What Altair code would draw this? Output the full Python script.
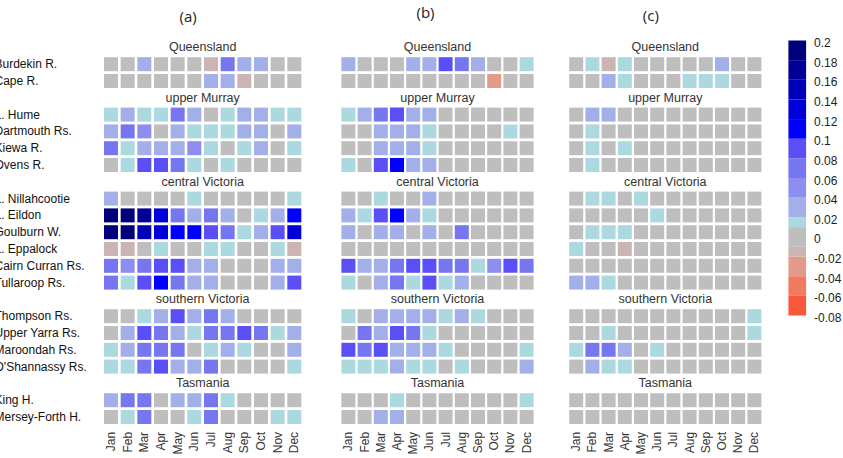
import altair as alt
import pandas as pd

months = ["Jan", "Feb", "Mar", "Apr", "May", "Jun",
          "Jul", "Aug", "Sep", "Oct", "Nov", "Dec"]

regions = ["Queensland", "upper Murray", "central Victoria",
           "southern Victoria", "Tasmania"]

region_sites = [
    ["Burdekin R.", "Cape R."],
    ["L. Hume", "Dartmouth Rs.", "Kiewa R.", "Ovens R."],
    ["L. Nillahcootie", "L. Eildon", "Goulburn W.", "L. Eppalock",
     "Cairn Curran Rs.", "Tullaroop Rs."],
    ["Thompson Rs.", "Upper Yarra Rs.", "Maroondah Rs.", "O'Shannassy Rs."],
    ["King H.", "Mersey-Forth H."],
]

# monthly trend values per site, Jan..Dec
panel_a = {
    "Burdekin R.":      [0, 0, .03, 0, 0, 0, -.015, .07, .03, .03, 0, 0],
    "Cape R.":          [0, 0, 0, 0, 0, 0, .03, .03, -.015, 0, 0, 0],
    "L. Hume":          [.015, .03, .015, .015, .07, .03, 0, .015, .03, .03, .015, .015],
    "Dartmouth Rs.":    [.03, .07, .05, 0, .03, .015, .015, .015, .03, .03, 0, .03],
    "Kiewa R.":         [.07, .015, .03, .03, .03, .05, .015, 0, .015, .03, 0, .015],
    "Ovens R.":         [0, .015, .09, .09, .07, .015, 0, .015, 0, 0, 0, 0],
    "L. Nillahcootie":  [.03, 0, 0, 0, 0, .015, 0, 0, 0, 0, 0, .015],
    "L. Eildon":        [.19, .19, .17, .13, .07, .03, .07, .03, 0, .015, .03, .11],
    "Goulburn W.":      [.19, .19, .15, .13, .11, .11, .09, .07, .015, .03, .09, .13],
    "L. Eppalock":      [-.015, -.015, 0, .015, 0, 0, .015, .015, 0, 0, .015, -.015],
    "Cairn Curran Rs.": [.07, .05, .07, .09, .09, .03, .03, 0, 0, 0, .03, .03],
    "Tullaroop Rs.":    [.07, .015, .09, .11, .07, .03, .03, 0, 0, 0, .03, .09],
    "Thompson Rs.":     [0, 0, .015, .03, .09, .03, .07, .03, 0, 0, 0, 0],
    "Upper Yarra Rs.":  [0, .03, .09, .07, .03, .015, .07, .07, .09, .07, .015, .03],
    "Maroondah Rs.":    [.015, .03, .07, .07, .07, 0, .015, .03, .015, 0, 0, .03],
    "O'Shannassy Rs.":  [.015, .015, .07, .09, .03, .03, .07, 0, 0, 0, 0, .015],
    "King H.":          [.03, .07, .07, 0, .03, .03, .07, .015, 0, 0, 0, 0],
    "Mersey-Forth H.":  [0, .015, .07, 0, 0, .015, .07, 0, 0, 0, .015, .015],
}

panel_b = {
    "Burdekin R.":      [.03, 0, 0, 0, .03, .03, .09, .07, .03, 0, 0, .015],
    "Cape R.":          [0, 0, 0, 0, 0, 0, 0, 0, 0, -.03, 0, 0],
    "L. Hume":          [.015, .03, .07, .09, .03, .03, 0, 0, 0, 0, 0, 0],
    "Dartmouth Rs.":    [0, 0, .03, .03, .03, .015, 0, 0, 0, 0, .015, 0],
    "Kiewa R.":         [0, 0, .03, .03, .03, .015, 0, 0, 0, 0, 0, 0],
    "Ovens R.":         [.015, 0, .09, .11, .03, .03, 0, 0, 0, 0, 0, 0],
    "L. Nillahcootie":  [0, 0, .015, 0, 0, .03, 0, 0, 0, 0, 0, 0],
    "L. Eildon":        [.03, .015, .09, .11, .03, .015, 0, 0, 0, 0, 0, 0],
    "Goulburn W.":      [.03, 0, .03, .03, 0, .03, 0, .07, 0, 0, 0, 0],
    "L. Eppalock":      [0, 0, 0, 0, 0, 0, 0, 0, 0, 0, 0, 0],
    "Cairn Curran Rs.": [.09, .03, .03, .07, .09, .09, .07, .07, .015, .05, .09, .07],
    "Tullaroop Rs.":    [.015, 0, .03, .07, .015, .09, .015, .03, 0, 0, 0, 0],
    "Thompson Rs.":     [.015, 0, .03, .03, .03, .03, .015, .03, .015, 0, 0, 0],
    "Upper Yarra Rs.":  [0, .07, .03, .09, .07, .015, 0, 0, 0, 0, 0, 0],
    "Maroondah Rs.":    [.09, .07, .09, .03, .03, .03, .015, 0, 0, 0, 0, .015],
    "O'Shannassy Rs.":  [.015, .015, .015, .03, .015, .015, 0, .015, 0, 0, 0, .03],
    "King H.":          [0, 0, 0, .015, 0, 0, 0, 0, 0, 0, 0, .015],
    "Mersey-Forth H.":  [0, 0, .03, .03, 0, 0, 0, 0, 0, 0, 0, 0],
}

panel_c = {
    "Burdekin R.":      [0, .015, -.015, .015, 0, 0, 0, 0, 0, .03, 0, 0],
    "Cape R.":          [0, 0, .03, .015, 0, 0, 0, .015, .015, .015, 0, 0],
    "L. Hume":          [0, .03, .03, 0, 0, 0, 0, 0, 0, 0, 0, 0],
    "Dartmouth Rs.":    [0, .015, 0, 0, 0, 0, 0, 0, 0, 0, 0, 0],
    "Kiewa R.":         [0, .015, 0, .015, 0, 0, 0, 0, 0, 0, 0, 0],
    "Ovens R.":         [0, .015, 0, 0, 0, 0, 0, 0, 0, 0, 0, 0],
    "L. Nillahcootie":  [0, .015, .015, 0, .015, 0, 0, 0, 0, 0, 0, 0],
    "L. Eildon":        [0, 0, 0, 0, 0, .015, 0, 0, 0, 0, 0, 0],
    "Goulburn W.":      [0, .015, .015, .015, 0, 0, 0, 0, 0, 0, 0, 0],
    "L. Eppalock":      [.015, 0, 0, -.015, 0, 0, 0, 0, 0, 0, 0, 0],
    "Cairn Curran Rs.": [0, 0, 0, 0, 0, 0, 0, 0, 0, 0, 0, 0],
    "Tullaroop Rs.":    [.03, .03, .015, 0, 0, 0, 0, 0, 0, 0, 0, 0],
    "Thompson Rs.":     [0, 0, 0, 0, 0, 0, 0, 0, 0, 0, 0, .015],
    "Upper Yarra Rs.":  [0, 0, .015, 0, 0, 0, 0, 0, 0, 0, 0, .015],
    "Maroondah Rs.":    [.015, .07, .07, .03, 0, .015, 0, 0, 0, 0, 0, 0],
    "O'Shannassy Rs.":  [0, .03, .015, .015, 0, 0, 0, 0, 0, 0, 0, 0],
    "King H.":          [0, 0, 0, 0, 0, 0, 0, 0, 0, 0, 0, 0],
    "Mersey-Forth H.":  [0, 0, 0, 0, 0, 0, 0, 0, 0, 0, 0, 0],
}

# colour classes: bin edges and the colour of each bin (bottom to top)
bin_edges = [-0.08, -0.06, -0.04, -0.02, -0.01, 0.01, 0.02,
             0.04, 0.06, 0.08, 0.10, 0.12, 0.14, 0.16, 0.18, 0.20]
bin_colors = ["#f8593b", "#f07b61", "#e39a8b", "#cbb4b3", "#bebebe",
              "#acd8e0", "#a3afe9", "#8e8ef0", "#7676f1", "#5a4ff6",
              "#0000ff", "#0000d8", "#0000b8", "#000098", "#00007c"]
tick_values = [0.2, 0.18, 0.16, 0.14, 0.12, 0.1, 0.08, 0.06, 0.04,
               0.02, 0, -0.02, -0.04, -0.06, -0.08]
tick_labels = ["0.2", "0.18", "0.16", "0.14", "0.12", "0.1", "0.08", "0.06",
               "0.04", "0.02", "0", "-0.02", "-0.04", "-0.06", "-0.08"]

FONT = "Liberation Sans"

# row slots: one heading slot per region followed by its sites
slots = []
heading_slots = []
for i, sites in enumerate(region_sites):
    key = " " * (i + 1)
    heading_slots.append(key)
    slots.append(key)
    slots.extend(sites)

PLOT_H = 386.4
y_scale = alt.Scale(domain=slots, paddingInner=0.1667, paddingOuter=0.083)
color_scale = alt.Scale(type="threshold", domain=bin_edges[1:-1], range=bin_colors)


def panel(values, tag, width, p_inner, p_outer, align, tag_dx, tag_y, show_sites):
    rows = []
    for sites in region_sites:
        for s in sites:
            for m, v in zip(months, values[s]):
                rows.append({"row": s, "month": m, "value": v})
    cells_df = pd.DataFrame(rows)

    step = width / (12 - p_inner + 2 * p_outer)
    start = (width - step * (12 - p_inner)) * align
    center = start + step * (12 - p_inner) / 2

    x_enc = alt.X(
        "month:N", sort=months,
        scale=alt.Scale(domain=months, paddingInner=p_inner,
                        paddingOuter=p_outer, align=align),
        axis=alt.Axis(title=None, domain=False, ticks=False, labelAngle=270,
                      labelPadding=6, labelFont=FONT, labelFontSize=12,
                      labelColor="#333333"),
    )
    if show_sites:
        y_axis = alt.Axis(title=None, domain=False, ticks=False,
                          labelAlign="left", labelPadding=110, labelFont=FONT,
                          labelFontSize=12, labelColor="#111111", labelLimit=300)
    else:
        y_axis = None

    cells = alt.Chart(cells_df).mark_rect().encode(
        x=x_enc,
        y=alt.Y("row:N", sort=slots, scale=y_scale, axis=y_axis),
        color=alt.Color("value:Q", scale=color_scale, legend=None),
    )

    heads = alt.Chart(pd.DataFrame({"row": heading_slots, "name": regions})).mark_text(
        font=FONT, fontSize=12.5, color="#333333", baseline="middle", align="center"
    ).encode(
        y=alt.Y("row:N", sort=slots, scale=y_scale, axis=y_axis),
        x=alt.value(center),
        text="name:N",
    )

    label = alt.Chart(pd.DataFrame({"tag": [tag]})).mark_text(
        font="Open Sans", fontSize=15, color="#222222", baseline="middle", align="center"
    ).encode(
        x=alt.value(center + tag_dx),
        y=alt.value(tag_y),
        text="tag:N",
    )

    return alt.layer(cells, heads, label).properties(width=width, height=PLOT_H)


pa = panel(panel_a, "(a)", 197.3, 0.16, 0.0, 0.5, -14.5, -22.5, True)
pb = panel(panel_b, "(b)", 204.8, 0.136, 0.389, 1.0, -12, -26.5, False)
pc = panel(panel_c, "(c)", 200.8, 0.136, 0.2655, 1.0, -14.5, -23.5, False)

# colour bar
bins_df = pd.DataFrame({
    "lo": bin_edges[:-1],
    "hi": bin_edges[1:],
    "col": bin_colors,
})
bar_scale = alt.Scale(domain=[-0.08356, 0.20153], nice=False, zero=False)
BAR_W = 17.7
bar = alt.Chart(bins_df).mark_rect().encode(
    y=alt.Y("lo:Q", scale=bar_scale, axis=None),
    y2="hi:Q",
    x=alt.value(0),
    x2=alt.value(BAR_W),
    color=alt.Color("col:N", scale=None),
)
ticks_df = pd.DataFrame({"v": tick_values, "lab": tick_labels})
bar_text = alt.Chart(ticks_df).mark_text(
    font=FONT, fontSize=12, color="#222222", align="left", baseline="middle", dy=2.5
).encode(
    y=alt.Y("v:Q", scale=bar_scale, axis=None),
    x=alt.value(BAR_W + 8),
    text="lab:N",
)
colorbar = alt.layer(bar, bar_text).properties(width=BAR_W, height=280)

chart = alt.hconcat(pa, pb, pc, colorbar, spacing=26.8, bounds="flush").properties(
    padding={"left": -6, "top": 5, "right": 0, "bottom": 0},
    background="white",
).configure_view(stroke=None)

chart.save("out.html", embed_options={"renderer": "svg", "actions": False})
